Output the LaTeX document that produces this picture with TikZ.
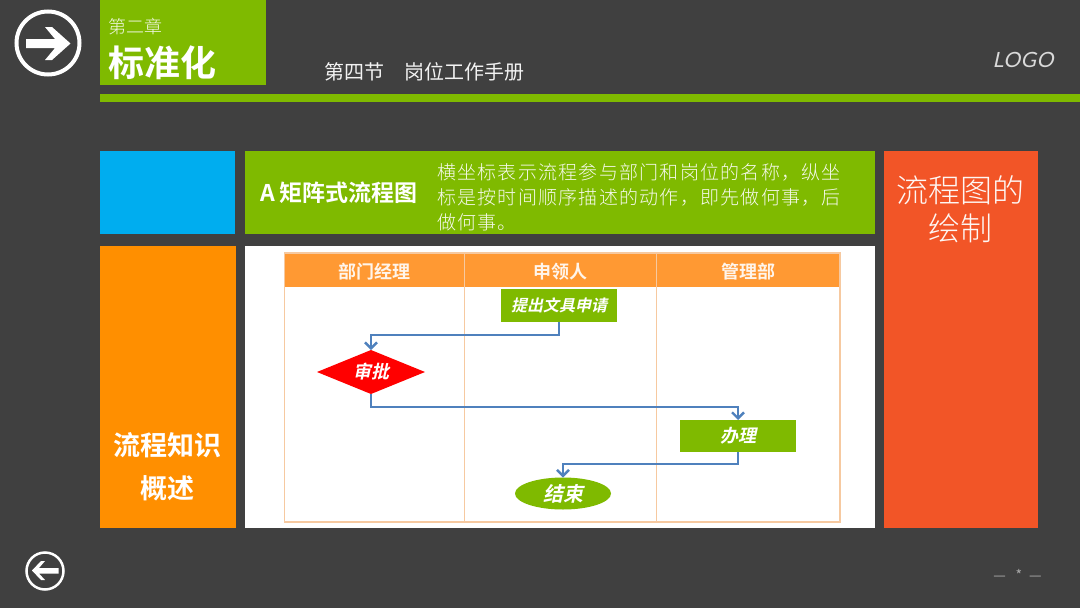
\documentclass[tikz,border=0pt]{standalone}
\usepackage{fontspec}
\usetikzlibrary{arrows.meta,shapes.geometric}
\setmainfont{Noto Sans CJK SC}
\newfontfamily\cjkb{Noto Sans CJK SC Bold}
\newfontfamily\cjkl{Noto Sans CJK SC Light}
\newfontfamily\cjkspaced[LetterSpace=6.6]{Noto Sans CJK SC Light}
\newfontfamily\cjks[FakeSlant=0.22]{Noto Sans CJK SC Bold}
\newfontfamily\logofont[FakeSlant=0.22,LetterSpace=3]{Lato}
\definecolor{bgdark}{HTML}{404040}
\definecolor{grn}{HTML}{7FBA00}
\definecolor{sky}{HTML}{00ADEF}
\definecolor{amber}{HTML}{FF8F00}
\definecolor{vermil}{HTML}{F25527}
\definecolor{hdr}{HTML}{FF9933}
\definecolor{rule}{HTML}{F6C9A0}
\definecolor{flow}{HTML}{4F81BD}
\tikzset{
  x=1pt,y=-1pt,
  panel/.style={inner sep=0,outer sep=0,anchor=north west},
  txt/.style={inner sep=0,outer sep=0,text=white},
  flowbox/.style={panel,fill=grn,font=\fontsize{16}{16}\cjks,text=white},
  conn/.style={draw=flow,line width=2.4pt,-{Straight Barb[length=6pt,width=12pt,line width=2.4pt]}},
}
\begin{document}
\begin{tikzpicture}
\useasboundingbox (0,0) rectangle (1080,608);
\fill[bgdark] (0,0) rectangle (1080,608);
% top band
\fill[grn] (100,0) rectangle (266,85);
\fill[grn] (100,94) rectangle (1080,102);
% arrow badges
\draw[white,line width=4pt] (48,43) circle (31.5);
\fill[white] (26,39)--(55,39)--(45,27)--(52,27)--(70.5,43.5)--(52,60)--(45,60)--(55,48)--(26,48)--cycle;
\draw[white,line width=2.5pt] (45,571) circle (18.5);
\fill[white] (58.5,568)--(39,568)--(45,561)--(41,561)--(32,570.5)--(41,580)--(45,580)--(39,573.5)--(58.5,573.5)--cycle;
% titles
\node[txt,anchor=west,text=white!90!grn,font=\fontsize{18}{18}\cjkl] (ch) at (108,27) {第二章};
\node[txt,anchor=west,font=\fontsize{36}{36}\cjkb] (std) at (108,63) {标准化};
\node[txt,anchor=west,text=white!95!black,font=\fontsize{20}{20}\selectfont] (sec) at (324.5,72) {第四节　岗位工作手册};
\node[txt,anchor=center,text=white!85!black,font=\fontsize{21}{21}\logofont] (logo) at (1023,60) {LOGO};
% panels
\node[panel,fill=sky,minimum width=135,minimum height=83] (blue) at (100,151) {};
\node[panel,fill=grn,minimum width=630,minimum height=83] (head) at (245,151) {};
\node[panel,fill=amber,minimum width=136,minimum height=282] (left) at (100,246) {};
\node[panel,fill=white,minimum width=630,minimum height=282] (sheet) at (245,246) {};
\node[panel,fill=vermil,minimum width=154,minimum height=377] (right) at (884,151) {};
% panel texts
\node[txt,anchor=west,font=\fontsize{23}{23}\cjkb] (atitle) at (260,192.5) {A 矩阵式流程图};
\node[txt,anchor=north west,text=white!92!grn,align=left,font=\fontsize{19}{25}\cjkspaced] (desc) at (437,163.5) {横坐标表示流程参与部门和岗位的名称，纵坐\\标是按时间顺序描述的动作，即先做何事，后\\做何事。};
\node[txt,align=center,text=white!95!vermil,font=\fontsize{32}{38}\cjkl] (rt) at (960.5,209.5) {流程图的\\绘制};
\node[txt,align=center,font=\fontsize{27}{43}\cjkb] (lt) at (167,466.5) {流程知识\\概述};
% table
\fill[hdr] (284,253) rectangle (840,287);
\draw[rule,line width=1.4pt] (284.5,253) rectangle (840,522);
\draw[rule,line width=1.4pt] (464.5,253) -- (464.5,522);
\draw[rule,line width=1.4pt] (656.5,253) -- (656.5,522);
\node[txt,text=white!90!hdr,font=\fontsize{18}{18}\cjkb] (h1) at (374.5,271.5) {部门经理};
\node[txt,text=white!90!hdr,font=\fontsize{18}{18}\cjkb] (h2) at (560,271.5) {申领人};
\node[txt,text=white!90!hdr,font=\fontsize{18}{18}\cjkb] (h3) at (748,271.5) {管理部};
% flow nodes
\node[flowbox,minimum width=116,minimum height=33] (apply) at (501,289) {提出文具申请};
\node[diamond,fill=red,inner sep=0,outer sep=0,minimum width=108,minimum height=44,aspect=2.45,text=white,font=\fontsize{18}{18}\cjks] (ok) at (371,372) {审批};
\node[flowbox,minimum width=116,minimum height=32,font=\fontsize{18}{18}\cjks] (do) at (680,420) {办理};
\node[ellipse,fill=grn,inner sep=0,outer sep=0,minimum width=96,minimum height=32,text=white,font=\fontsize{20}{20}\cjks] (end) at (563,493.5) {结束};
% connectors
\draw[conn] (apply.south) -- ++(0,13) -| (ok.north);
\draw[conn] (ok.south) -- ++(0,13) -| (do.north);
\draw[conn] (do.south) -- ++(0,12) -| (end.north);
% footer
\node[txt,text=white!55!bgdark,font=\fontsize{14}{14}\selectfont] (pg) at (1017.5,575) {—\hspace{0.7em}*\hspace{0.5em}—};
\end{tikzpicture}
\end{document}
